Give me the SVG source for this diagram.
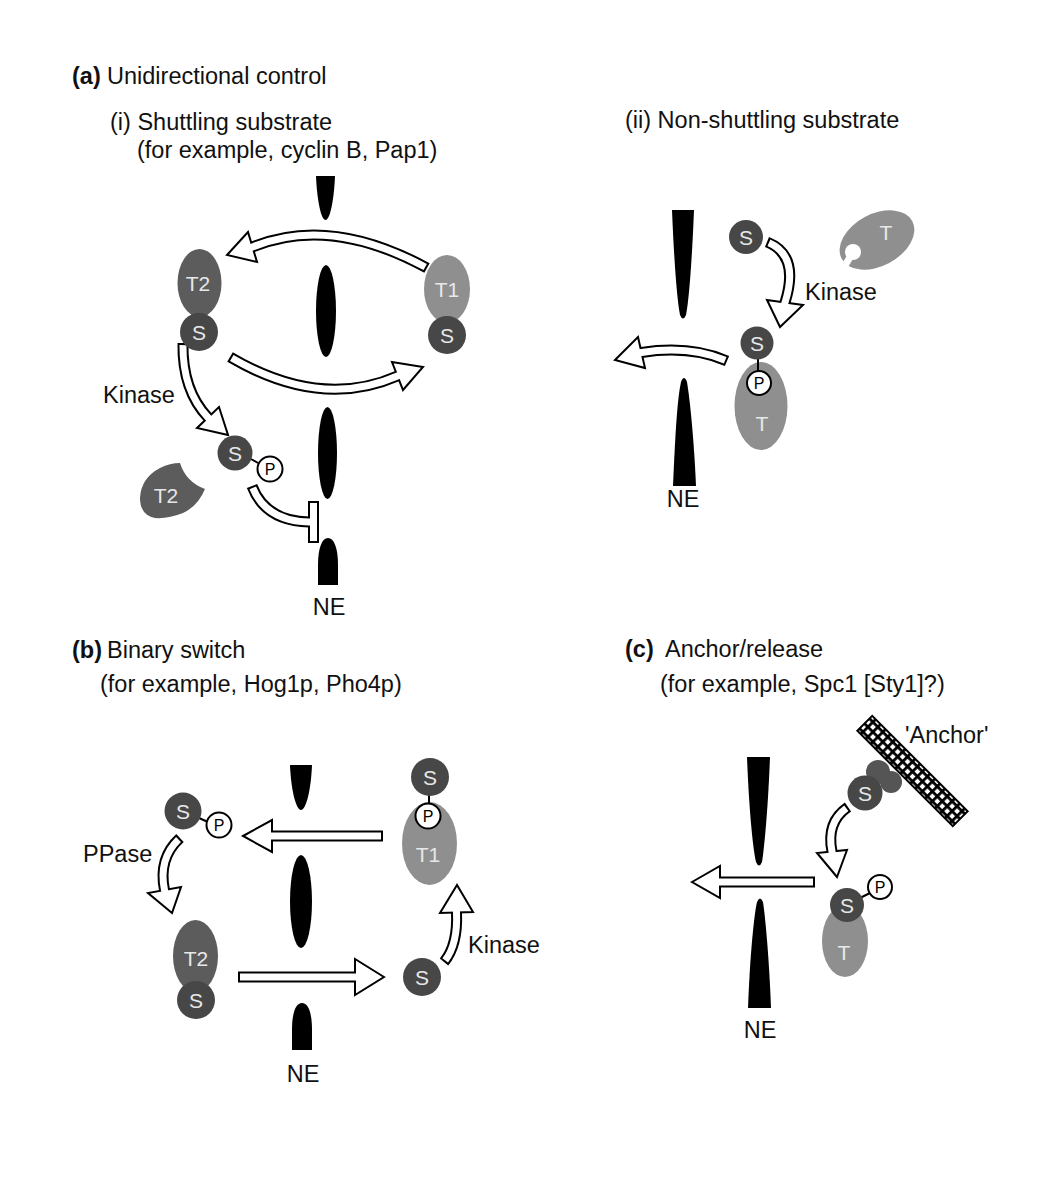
<svg xmlns="http://www.w3.org/2000/svg" width="1062" height="1182" viewBox="0 0 1062 1182">
<style>
text{font-family:"Liberation Sans",Arial,sans-serif;}
.lbl{font-size:23.5px;fill:#111;}
.b{font-weight:bold;}
.ne{fill:#000;}
.net{font-size:23.5px;fill:#111;text-anchor:middle;}
.s{fill:#474747;}
.t2{fill:#5c5c5c;}
.t1{fill:#8f8f8f;}
.mt{font-size:21px;fill:#e8e8e8;text-anchor:middle;}
.pc{fill:#fff;stroke:#000;stroke-width:2;}
.pt{font-size:16px;fill:#000;text-anchor:middle;}
.ln{stroke:#000;stroke-width:2;fill:none;}
.so{fill:none;stroke:#000;stroke-width:11;}
.si{fill:none;stroke:#fff;stroke-width:7;stroke-dasharray:0 2 9999;}
.hd{fill:#fff;stroke:#000;stroke-width:2;stroke-linejoin:miter;}
</style>
<defs>
<pattern id="hatch" width="7" height="7" patternUnits="userSpaceOnUse">
<rect width="7" height="7" fill="#000"/>
<rect x="1.8" y="1.8" width="4.2" height="4.2" fill="#fff"/>
</pattern>
</defs>

<g id="labels">
<text class="lbl" x="72" y="84"><tspan class="b">(a)</tspan><tspan x="107">Unidirectional control</tspan></text>
<text class="lbl" x="110" y="130">(i) Shuttling substrate</text>
<text class="lbl" x="137" y="158">(for example, cyclin B, Pap1)</text>
<text class="lbl" x="625" y="128">(ii) Non-shuttling substrate</text>
<text class="lbl" x="72" y="658"><tspan class="b">(b)</tspan><tspan x="107">Binary switch</tspan></text>
<text class="lbl" x="100" y="692">(for example, Hog1p, Pho4p)</text>
<text class="lbl" x="625" y="657"><tspan class="b">(c)</tspan><tspan x="665">Anchor/release</tspan></text>
<text class="lbl" x="660" y="692">(for example, Spc1 [Sty1]?)</text>
<text class="lbl" x="103" y="403">Kinase</text>
<text class="lbl" x="805" y="300">Kinase</text>
<text class="lbl" x="83" y="862">PPase</text>
<text class="lbl" x="468" y="953">Kinase</text>
<text class="lbl" x="905" y="743">'Anchor'</text>
</g>

<g id="connectors">
<path class="so" d="M427,268 Q330,215 252.5,247"/>
<polygon class="hd" points="227,255 248,232 257,262"/>
<path class="si" d="M427,268 Q330,215 252.5,247 L249.2,248.3"/>
<path class="so" d="M230,357 Q320,410 397.5,376"/>
<polygon class="hd" points="423,367 392,362 403,390"/>
<path class="si" d="M230,357 Q320,410 397.5,376 L400.2,374.8"/>
<path class="so" d="M183,343 Q182,390 208,417.5"/>
<polygon class="hd" points="228,435 197,428 219,407"/>
<path class="si" d="M183,343 Q182,390 208,417.5 L210,419.7"/>
<path class="so" d="M252,486 Q265,521 309,522"/>
<rect class="hd" x="309" y="502" width="9" height="40"/>
<path class="si" d="M252,486 Q265,521 309,522 L312,522"/>
<path class="so" d="M767,242 Q800,255 785,302.5"/>
<polygon class="hd" points="780,327 767,300 803,305"/>
<path class="si" d="M767,242 Q800,255 785,302.5 L784.1,305.4"/>
<path class="so" d="M727,361 Q690,345 641.5,352.5"/>
<polygon class="hd" points="615,360 638,337 645,368"/>
<path class="si" d="M727,361 Q690,345 641.5,352.5 L638.5,353"/>
<path class="so" d="M180,838 Q158,858 164.5,890"/>
<polygon class="hd" points="172,913 148,893 181,887"/>
<path class="si" d="M180,838 Q158,858 164.5,890 L165.1,892.9"/>
<path class="so" d="M238,977 L355,977"/>
<polygon class="hd" points="384,977 355,959 355,995"/>
<path class="si" d="M238,977 L358,977"/>
<path class="so" d="M383,836 L272,836"/>
<polygon class="hd" points="243,836 272,820 272,852"/>
<path class="si" d="M383,836 L269,836"/>
<path class="so" d="M444,962 Q458,945 456.5,912.5"/>
<polygon class="hd" points="457,885 440,913 473,912"/>
<path class="si" d="M444,962 Q458,945 456.5,912.5 L456.4,909.5"/>
<path class="so" d="M848,807 Q826,822 832,851.5"/>
<polygon class="hd" points="837,877 817,853 847,850"/>
<path class="si" d="M848,807 Q826,822 832,851.5 L832.6,854.4"/>
<path class="so" d="M815,882 L720,882"/>
<polygon class="hd" points="692,882 720,866 720,898"/>
<path class="si" d="M815,882 L717,882"/>
</g>

<g id="ne-a1">
<path class="ne" d="M316,176 L335,176 C334,200 330,220 325.5,220 C321,220 317,200 316,176 Z"/>
<ellipse class="ne" cx="326" cy="311" rx="10" ry="46"/>
<ellipse class="ne" cx="327.5" cy="453" rx="9.5" ry="46"/>
<path class="ne" d="M318,585 L338,585 L338,565 C338,548 334,538 328,538 C322,538 318,548 318,565 Z"/>
<text class="net" x="329" y="615">NE</text>
</g>
<g id="ne-a2">
<path class="ne" d="M672,210 L694,210 C692,260 689,300 686,315 Q683,322 680,315 C677,300 674,260 672,210 Z"/>
<path class="ne" d="M673,486 L696,486 C694,440 690,400 687,382 Q684,374 681,382 C677,400 675,440 673,486 Z"/>
<text class="net" x="683" y="507">NE</text>
</g>
<g id="ne-b">
<path class="ne" d="M290,765 L312,765 C311,790 306,810 301,810 C296,810 291,790 290,765 Z"/>
<ellipse class="ne" cx="301" cy="901.5" rx="11" ry="46.5"/>
<path class="ne" d="M292,1050 L312,1050 L312,1030 C312,1012 308,1003 302,1003 C296,1003 292,1012 292,1030 Z"/>
<text class="net" x="303" y="1082">NE</text>
</g>
<g id="ne-c">
<path class="ne" d="M747,757 L770,757 C768,810 764,850 762,862 Q759,869 756,862 C753,850 749,810 747,757 Z"/>
<path class="ne" d="M748,1008 L771,1008 C769,955 765,915 763,902 Q760,895 757,902 C754,915 750,955 748,1008 Z"/>
<text class="net" x="760" y="1038">NE</text>
</g>

<g id="a1-T2S">
<ellipse class="t2" cx="199.5" cy="283" rx="22" ry="34"/>
<text class="mt" x="198" y="291">T2</text>
<circle class="s" cx="199" cy="332" r="19"/>
<text class="mt" x="199" y="339.5">S</text>
</g>
<g id="a1-T1S">
<ellipse class="t1" cx="447" cy="289" rx="23" ry="34"/>
<text class="mt" x="447" y="297">T1</text>
<circle class="s" cx="447" cy="335" r="19"/>
<text class="mt" x="447" y="342.5">S</text>
</g>
<g id="a1-SP">
<line class="ln" x1="251" y1="459" x2="258" y2="463"/>
<circle class="s" cx="235" cy="453" r="17.5"/>
<text class="mt" x="235" y="460.5">S</text>
<circle class="pc" cx="270" cy="469" r="12.5"/>
<text class="pt" x="270" y="475">P</text>
</g>
<g id="a1-T2free">
<path class="t2" d="M180,463 Q186,482 205,489 Q198,506 183,513 Q168,519 155,518 Q140,515 140,498 Q141,478 160,468 Q170,463 180,463 Z"/>
<text class="mt" x="166" y="503">T2</text>
</g>

<g id="a2-S">
<circle class="s" cx="746" cy="237" r="17"/>
<text class="mt" x="746" y="244.5">S</text>
</g>
<g id="a2-T">
<ellipse class="t1" cx="877" cy="240" rx="40" ry="26" transform="rotate(-28 877 240)"/>
<circle cx="853" cy="252" r="8" fill="#fff"/>
<line x1="853" y1="252" x2="843" y2="269" stroke="#fff" stroke-width="7"/>
<text class="mt" x="886" y="240">T</text>
</g>
<g id="a2-TSP">
<ellipse class="t1" cx="761" cy="406" rx="26.5" ry="44"/>
<text class="mt" x="762" y="431">T</text>
<line class="ln" x1="758" y1="358" x2="758" y2="372"/>
<circle class="s" cx="757" cy="343" r="16.5"/>
<text class="mt" x="757" y="350.5">S</text>
<circle class="pc" cx="759" cy="383" r="12"/>
<text class="pt" x="759" y="389">P</text>
</g>

<g id="b-SP">
<line class="ln" x1="199" y1="818" x2="208" y2="822"/>
<circle class="s" cx="183" cy="811" r="18.5"/>
<text class="mt" x="183" y="818.5">S</text>
<circle class="pc" cx="219" cy="825" r="12.5"/>
<text class="pt" x="219" y="831">P</text>
</g>
<g id="b-T2S">
<ellipse class="t2" cx="195.5" cy="956" rx="22.5" ry="36"/>
<text class="mt" x="196" y="966">T2</text>
<circle class="s" cx="196" cy="1000" r="19"/>
<text class="mt" x="196" y="1007.5">S</text>
</g>
<g id="b-S">
<circle class="s" cx="422" cy="977" r="19"/>
<text class="mt" x="422" y="984.5">S</text>
</g>
<g id="b-T1SP">
<ellipse class="t1" cx="429.5" cy="843.5" rx="27.5" ry="41.5"/>
<text class="mt" x="428" y="862">T1</text>
<line class="ln" x1="429" y1="794" x2="429" y2="805"/>
<circle class="s" cx="430" cy="777" r="19"/>
<text class="mt" x="430" y="784.5">S</text>
<circle class="pc" cx="428" cy="816" r="12.5"/>
<text class="pt" x="428" y="822">P</text>
</g>

<g id="c-anchor">
<g transform="translate(912.5 771) rotate(45)">
<rect x="-67.5" y="-10.5" width="135" height="21" fill="url(#hatch)" stroke="#000" stroke-width="2"/>
</g>
</g>
<g id="c-S">
<circle cx="878" cy="772" r="12" fill="#555"/>
<circle cx="891" cy="782" r="11" fill="#555"/>
<circle class="s" cx="865" cy="793" r="17.5"/>
<text class="mt" x="865" y="800.5">S</text>
</g>
<g id="c-TSP">
<ellipse class="t1" cx="845" cy="941" rx="23" ry="36"/>
<text class="mt" x="844" y="960">T</text>
<line class="ln" x1="860" y1="898" x2="872" y2="892"/>
<circle class="s" cx="847" cy="905" r="17"/>
<text class="mt" x="847" y="912.5">S</text>
<circle class="pc" cx="880" cy="887" r="12"/>
<text class="pt" x="880" y="893">P</text>
</g>
</svg>
